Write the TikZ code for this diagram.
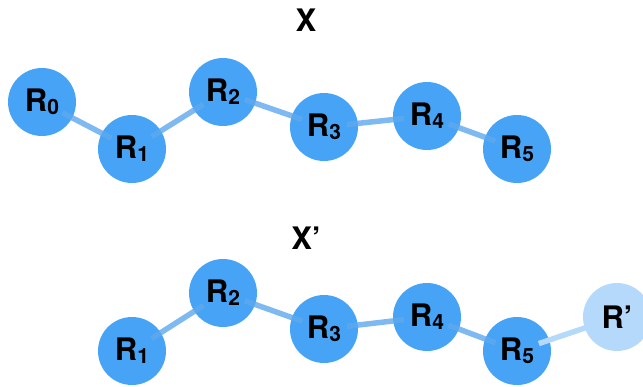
\documentclass[tikz,border=0pt]{standalone}
\usepackage{fontspec}
\setmainfont{TeX Gyre Heros}
\usetikzlibrary{positioning}

\definecolor{resblue}{HTML}{46A3F5}
\definecolor{reslight}{HTML}{B5D9FB}
\definecolor{bondblue}{HTML}{5EA9EE}

\newcommand{\resname}[1]{\textbf{R\raisebox{-0.2ex}{\fontsize{21}{21}\selectfont #1}}}

\begin{document}
\begin{tikzpicture}[
			x=1pt, y=-1pt,
			on grid,
			res/.style={
				circle,
				fill=resblue,
				minimum size=68pt,
				inner sep=0pt,
				font=\fontsize{31}{33}\selectfont
			},
			ghost/.style={res, fill=reslight},
			bond/.style={
				line width=5.5pt,
				draw=bondblue,
				opacity=0.8,
				shorten <=23pt,
				shorten >=23pt
			},
			title/.style={font=\fontsize{31}{33}\selectfont\bfseries}
			]
			\useasboundingbox (0,0) rectangle (643,386);
			
			%%%%%%%%%%%%%%%%%%%%%%%%%%%%%%%%%%%%%%%%%%%%%%%%%%%%%%%%%%%%
			% Chain X
			%%%%%%%%%%%%%%%%%%%%%%%%%%%%%%%%%%%%%%%%%%%%%%%%%%%%%%%%%%%%
			
			\node[title] (x) at (306,20) {X};
			
			\node[res] (r0) at (42,102) {\resname{0}};
			
			\node[res] (r1) [below right=47pt and 90pt of r0] {\resname{1}};
			
			\node[res] (r2) [above right=57pt and 91pt of r1] {\resname{2}};
			
			\node[res] (r3) [below right=35pt and 101pt of r2] {\resname{3}};
			
			\node[res] (r4) [above right=11pt and 103pt of r3] {\resname{4}};
			
			\node[res] (r5) [below right=33pt and 90pt of r4] {\resname{5}};
			
			%%%%%%%%%%%%%%%%%%%%%%%%%%%%%%%%%%%%%%%%%%%%%%%%%%%%%%%%%%%%
			% Chain X'
			%%%%%%%%%%%%%%%%%%%%%%%%%%%%%%%%%%%%%%%%%%%%%%%%%%%%%%%%%%%%
			
			\node[title] (xp) [below=218pt of x] {X’};
			
			\node[res] (s1) [below=202pt of r1] {\resname{1}};
			
			\node[res] (s2) [above right=58pt and 91pt of s1] {\resname{2}};
			
			\node[res] (s3) [below right=36pt and 101pt of s2] {\resname{3}};
			
			\node[res] (s4) [above right=12pt and 103pt of s3] {\resname{4}};
			
			\node[res] (s5) [below right=34pt and 90pt of s4] {\resname{5}};
			
			\node[ghost] (snew) [above right=34pt and 100pt of s5] {\textbf{R’}};
			
			%%%%%%%%%%%%%%%%%%%%%%%%%%%%%%%%%%%%%%%%%%%%%%%%%%%%%%%%%%%%
			% Bonds
			%%%%%%%%%%%%%%%%%%%%%%%%%%%%%%%%%%%%%%%%%%%%%%%%%%%%%%%%%%%%
			
			% X
			
			\draw[bond] (r0.center) -- (r1.center);
			
			\draw[bond] (r1.center) -- (r2.center);
			
			\draw[bond] (r2.center) -- (r3.center);
			
			\draw[bond] (r3.center) -- (r4.center);
			
			\draw[bond] (r4.center) -- (r5.center);
			
			% X'
			
			\draw[bond] (s1.center) -- (s2.center);
			
			\draw[bond] (s2.center) -- (s3.center);
			
			\draw[bond] (s3.center) -- (s4.center);
			
			\draw[bond] (s4.center) -- (s5.center);
			
			\draw[bond, draw=reslight, opacity=1] (s5.center) -- (snew.center);
			
		\end{tikzpicture}
\end{document}
